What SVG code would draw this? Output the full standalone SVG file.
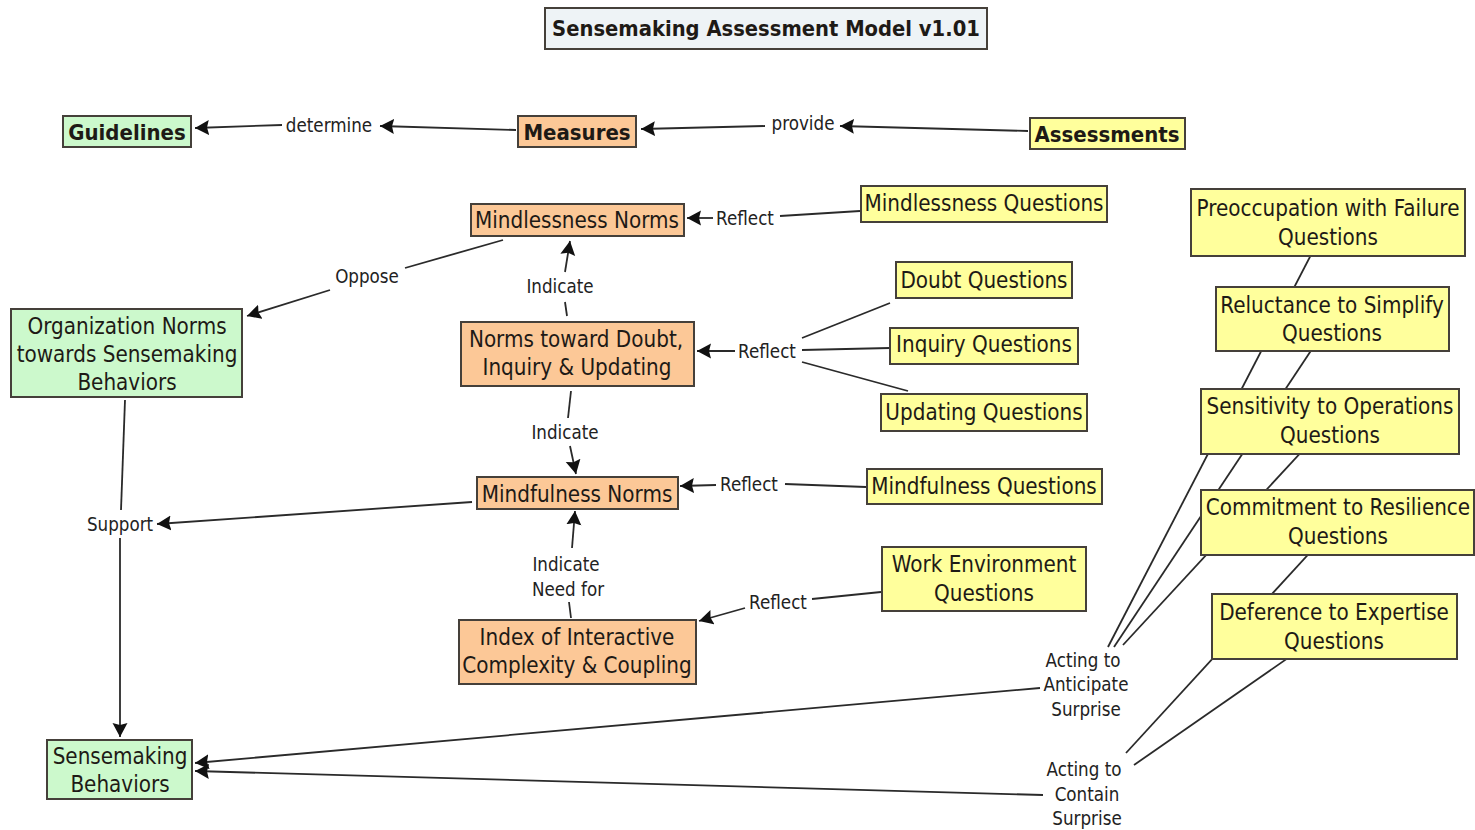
<svg xmlns="http://www.w3.org/2000/svg" width="1475" height="830" viewBox="0 0 1475 830">
<style>
.bg{fill:#ffffff}
.box{stroke:#45403a;stroke-width:2}
.g{fill:#ccf9cc}
.o{fill:#fcc897}
.y{fill:#ffff9c}
.t{fill:#eef3f6}
.nt{font-family:"DejaVu Sans","Verdana",sans-serif;font-size:23px;fill:#1e1a16;text-anchor:middle}
.b{font-weight:bold;font-size:22px}
.lb{font-family:"DejaVu Sans","Verdana",sans-serif;font-size:19.5px;fill:#222;text-anchor:middle}
.c{fill:none;stroke:#2a2a2a;stroke-width:1.8}
.a{marker-end:url(#ah)}
</style>
<defs>
<marker id="ah" markerUnits="userSpaceOnUse" markerWidth="18" markerHeight="18" refX="14" refY="7.5" orient="auto">
<path d="M0,0 L14,7.5 L0,15 L2,7.5 z" fill="#111"/>
</marker>
</defs>
<rect class="bg" x="0" y="0" width="1475" height="830"/>

<g id="connectors">
<path class="c a" d="M516,130 L380,126"/>
<path class="c a" d="M282,125 L195,128"/>
<path class="c a" d="M1028,131 L840,126"/>
<path class="c a" d="M765,126 L641,129"/>
<path class="c" d="M860,211 L780,216"/>
<path class="c a" d="M713,218 L687,218"/>
<path class="c" d="M503,240 L405,268"/>
<path class="c a" d="M330,290 L247,316"/>
<path class="c" d="M567,316 L565,302"/>
<path class="c a" d="M565,272 L570,241"/>
<path class="c a" d="M735,351 L697,351"/>
<path class="c" d="M802,338 L890,303"/>
<path class="c" d="M802,350 L890,348"/>
<path class="c" d="M802,362 L908,391"/>
<path class="c" d="M571,391 L568,418"/>
<path class="c a" d="M570,446 L576,474"/>
<path class="c" d="M866,487 L785,484"/>
<path class="c a" d="M716,485 L680,486"/>
<path class="c a" d="M472,502 L157,524"/>
<path class="c" d="M125,400 L121,510"/>
<path class="c a" d="M120,538 L120,737"/>
<path class="c" d="M571,618 L569,602"/>
<path class="c a" d="M572,548 L575,511"/>
<path class="c" d="M881,592 L812,599"/>
<path class="c a" d="M745,608 L699,621"/>
<path class="c a" d="M1040,688 L195,763"/>
<path class="c a" d="M1043,795 L195,771"/>
<path class="c" d="M1108,647 L1328,222"/>
<path class="c" d="M1114,647 L1332,319"/>
<path class="c" d="M1123,645 L1330,421"/>
<path class="c" d="M1126,753 L1338,522"/>
<path class="c" d="M1134,765 L1334,626"/>
</g>

<g id="labels">
<text class="lb" transform="translate(329 132) scale(.86 1)">determine</text>
<text class="lb" transform="translate(803 130) scale(.86 1)">provide</text>
<text class="lb" transform="translate(745 225) scale(.86 1)">Reflect</text>
<text class="lb" transform="translate(367 283) scale(.86 1)">Oppose</text>
<text class="lb" transform="translate(560 293) scale(.86 1)">Indicate</text>
<text class="lb" transform="translate(767 358) scale(.86 1)">Reflect</text>
<text class="lb" transform="translate(565 439) scale(.86 1)">Indicate</text>
<text class="lb" transform="translate(749 491) scale(.86 1)">Reflect</text>
<text class="lb" transform="translate(120 531) scale(.86 1)">Support</text>
<text class="lb" transform="translate(566 571) scale(.86 1)">Indicate</text>
<text class="lb" transform="translate(568 596) scale(.86 1)">Need for</text>
<text class="lb" transform="translate(778 609) scale(.86 1)">Reflect</text>
<text class="lb" transform="translate(1083 667) scale(.86 1)">Acting to</text>
<text class="lb" transform="translate(1086 691) scale(.86 1)">Anticipate</text>
<text class="lb" transform="translate(1086 716) scale(.86 1)">Surprise</text>
<text class="lb" transform="translate(1084 776) scale(.86 1)">Acting to</text>
<text class="lb" transform="translate(1087 801) scale(.86 1)">Contain</text>
<text class="lb" transform="translate(1087 825) scale(.86 1)">Surprise</text>
</g>

<g id="title">
<rect class="box t" x="545" y="8" width="442" height="41"/>
<text class="nt b" transform="translate(766 36) scale(.89 1)">Sensemaking Assessment Model v1.01</text>
</g>

<g id="guidelines">
<rect class="box g" x="63" y="116" width="128" height="31"/>
<text class="nt b" transform="translate(127 140) scale(.9 1)">Guidelines</text>
</g>
<g id="measures">
<rect class="box o" x="518" y="116" width="118" height="31"/>
<text class="nt b" transform="translate(577 140) scale(.9 1)">Measures</text>
</g>
<g id="assessments">
<rect class="box y" x="1030" y="118" width="155" height="31"/>
<text class="nt b" transform="translate(1107 142) scale(.9 1)">Assessments</text>
</g>
<g id="mindlessness-norms">
<rect class="box o" x="471" y="204" width="213" height="32"/>
<text class="nt" transform="translate(577 228) scale(.87 1)">Mindlessness Norms</text>
</g>
<g id="mindlessness-questions">
<rect class="box y" x="861" y="186" width="246" height="36"/>
<text class="nt" transform="translate(984 211) scale(.87 1)">Mindlessness Questions</text>
</g>
<g id="org-norms">
<rect class="box g" x="11" y="309" width="231" height="88"/>
<text class="nt" transform="translate(127 334) scale(.87 1)">Organization Norms</text>
<text class="nt" transform="translate(127 362) scale(.87 1)">towards Sensemaking</text>
<text class="nt" transform="translate(127 390) scale(.87 1)">Behaviors</text>
</g>
<g id="norms-doubt">
<rect class="box o" x="461" y="322" width="233" height="64"/>
<text class="nt" transform="translate(576 347) scale(.87 1)">Norms toward Doubt,</text>
<text class="nt" transform="translate(577 375) scale(.87 1)">Inquiry &amp; Updating</text>
</g>
<g id="doubt-questions">
<rect class="box y" x="896" y="262" width="176" height="36"/>
<text class="nt" transform="translate(984 288) scale(.87 1)">Doubt Questions</text>
</g>
<g id="inquiry-questions">
<rect class="box y" x="890" y="328" width="188" height="36"/>
<text class="nt" transform="translate(984 352) scale(.87 1)">Inquiry Questions</text>
</g>
<g id="updating-questions">
<rect class="box y" x="881" y="394" width="206" height="37"/>
<text class="nt" transform="translate(984 420) scale(.87 1)">Updating Questions</text>
</g>
<g id="mindfulness-norms">
<rect class="box o" x="477" y="477" width="201" height="32"/>
<text class="nt" transform="translate(577 502) scale(.87 1)">Mindfulness Norms</text>
</g>
<g id="mindfulness-questions">
<rect class="box y" x="867" y="469" width="235" height="35"/>
<text class="nt" transform="translate(984 494) scale(.87 1)">Mindfulness Questions</text>
</g>
<g id="work-environment">
<rect class="box y" x="882" y="547" width="204" height="64"/>
<text class="nt" transform="translate(984 572) scale(.87 1)">Work Environment</text>
<text class="nt" transform="translate(984 601) scale(.87 1)">Questions</text>
</g>
<g id="index">
<rect class="box o" x="459" y="620" width="237" height="64"/>
<text class="nt" transform="translate(577 645) scale(.87 1)">Index of Interactive</text>
<text class="nt" transform="translate(577 673) scale(.87 1)">Complexity &amp; Coupling</text>
</g>
<g id="sensemaking-behaviors">
<rect class="box g" x="47" y="740" width="145" height="59"/>
<text class="nt" transform="translate(120 764) scale(.87 1)">Sensemaking</text>
<text class="nt" transform="translate(120 792) scale(.87 1)">Behaviors</text>
</g>
<g id="preoccupation">
<rect class="box y" x="1191" y="189" width="274" height="67"/>
<text class="nt" transform="translate(1328 216) scale(.87 1)">Preoccupation with Failure</text>
<text class="nt" transform="translate(1328 245) scale(.87 1)">Questions</text>
</g>
<g id="reluctance">
<rect class="box y" x="1216" y="287" width="233" height="64"/>
<text class="nt" transform="translate(1332 313) scale(.87 1)">Reluctance to Simplify</text>
<text class="nt" transform="translate(1332 341) scale(.87 1)">Questions</text>
</g>
<g id="sensitivity">
<rect class="box y" x="1201" y="389" width="258" height="65"/>
<text class="nt" transform="translate(1330 414) scale(.87 1)">Sensitivity to Operations</text>
<text class="nt" transform="translate(1330 443) scale(.87 1)">Questions</text>
</g>
<g id="commitment">
<rect class="box y" x="1201" y="490" width="273" height="65"/>
<text class="nt" transform="translate(1338 515) scale(.87 1)">Commitment to Resilience</text>
<text class="nt" transform="translate(1338 544) scale(.87 1)">Questions</text>
</g>
<g id="deference">
<rect class="box y" x="1212" y="594" width="245" height="65"/>
<text class="nt" transform="translate(1334 620) scale(.87 1)">Deference to Expertise</text>
<text class="nt" transform="translate(1334 649) scale(.87 1)">Questions</text>
</g>
</svg>
